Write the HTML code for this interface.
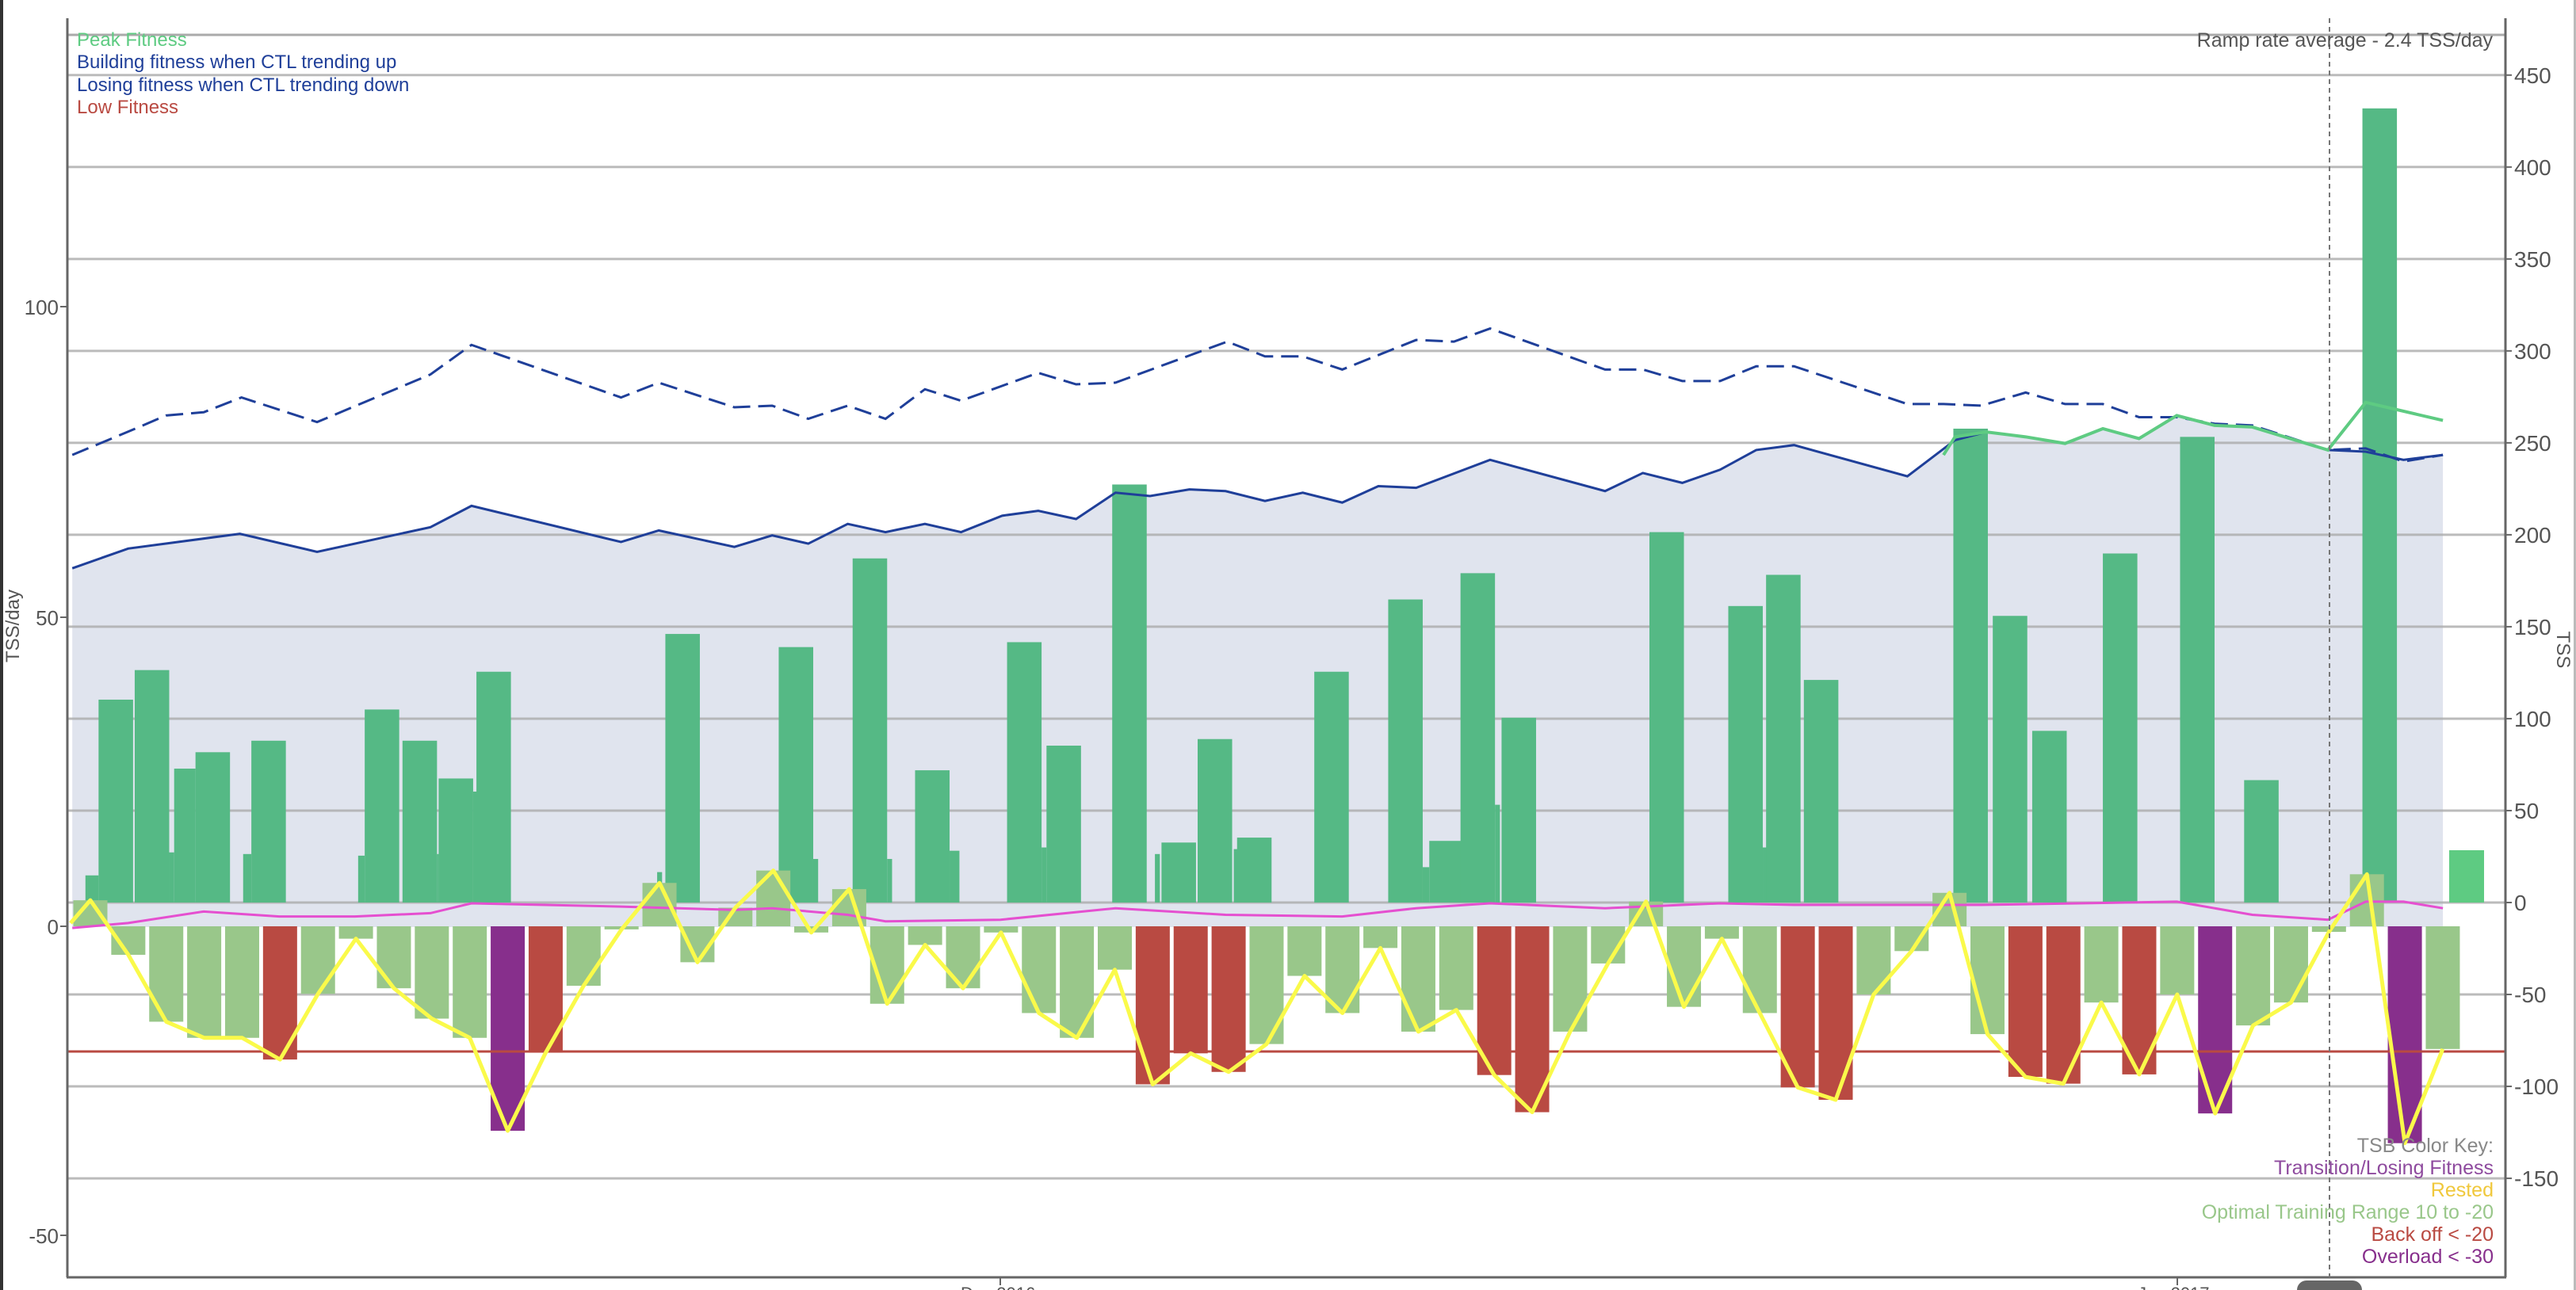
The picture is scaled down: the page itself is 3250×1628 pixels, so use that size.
<!DOCTYPE html>
<html><head><meta charset="utf-8"><style>
html,body{margin:0;padding:0;background:#fff;}
svg{display:block;font-family:"Liberation Sans",Arial,sans-serif;}
</style></head><body>
<svg id="c" width="3250" height="1628" viewBox="0 0 3250 1628" xmlns="http://www.w3.org/2000/svg">
<rect x="0" y="0" width="3250" height="1628" fill="#fff"/>
<rect x="0" y="0" width="4" height="1628" fill="#333"/>
<rect x="3247" y="0" width="3" height="1628" fill="#bbb"/>
<g id="area"></g>
<g id="grid"></g>
<g id="bars"></g>
<g id="lines"></g>
<!-- axes -->
<line x1="85" y1="23" x2="85" y2="1612" stroke="#666" stroke-width="3"/>
<line x1="3161" y1="23" x2="3161" y2="1612" stroke="#666" stroke-width="3"/>
<line x1="84" y1="1612" x2="3162" y2="1612" stroke="#666" stroke-width="3"/>
<line x1="1262" y1="1612" x2="1262" y2="1622" stroke="#666" stroke-width="2"/>
<line x1="2747" y1="1612" x2="2747" y2="1622" stroke="#666" stroke-width="2"/>
<line x1="2939" y1="23" x2="2939" y2="1612" stroke="#777" stroke-width="2" stroke-dasharray="6,5"/>
<rect x="2898" y="1616" width="82" height="30" rx="12" fill="#666"/>
<g font-size="26" fill="#555" text-anchor="end">
<text x="74" y="397">100</text><line x1="76" y1="387" x2="85" y2="387" stroke="#666" stroke-width="2"/>
<text x="74" y="789">50</text><line x1="76" y1="779" x2="85" y2="779" stroke="#666" stroke-width="2"/>
<text x="74" y="1179">0</text><line x1="76" y1="1169" x2="85" y2="1169" stroke="#666" stroke-width="2"/>
<text x="74" y="1569">-50</text><line x1="76" y1="1559" x2="85" y2="1559" stroke="#666" stroke-width="2"/>
</g>
<g id="rticks" font-size="28" fill="#555"></g>
<text transform="translate(24,790) rotate(-90)" font-size="24" fill="#555" text-anchor="middle">TSS/day</text>
<text transform="translate(3226,820) rotate(90)" font-size="24" fill="#555" text-anchor="middle">TSS</text>
<g font-size="24">
<text x="97" y="58" fill="#5ecb82">Peak Fitness</text>
<text x="97" y="86" fill="#1f3f99">Building fitness when CTL trending up</text>
<text x="97" y="115" fill="#1f3f99">Losing fitness when CTL trending down</text>
<text x="97" y="143" fill="#b94a42">Low Fitness</text>
</g>
<text x="3145" y="59" font-size="25" fill="#555" text-anchor="end">Ramp rate average - 2.4 TSS/day</text>
<g font-size="25" text-anchor="end">
<text x="3146" y="1454" fill="#888">TSB Color Key:</text>
<text x="3146" y="1482" fill="#8e4a9e">Transition/Losing Fitness</text>
<text x="3146" y="1510" fill="#f0c83c">Rested</text>
<text x="3146" y="1538" fill="#99c78a">Optimal Training Range 10 to -20</text>
<text x="3146" y="1566" fill="#b94a42">Back off &lt; -20</text>
<text x="3146" y="1594" fill="#872f8c">Overload &lt; -30</text>
</g>
<text x="1212" y="1640" font-size="22" fill="#555">Dec 2016</text>
<text x="2697" y="1640" font-size="22" fill="#555">Jan 2017</text>
</svg>
<script>
var NS="http://www.w3.org/2000/svg",k=2.0727;
function el(p,t,a){var e=document.createElementNS(NS,t);for(var q in a)e.setAttribute(q,a[q]);document.getElementById(p).appendChild(e);return e;}
// TSS gridlines
var T0=1139,tu=2.3205;
el('grid','line',{x1:85,y1:44,x2:3161,y2:44,stroke:'#aaa','stroke-width':3});
for(var v=450;v>=-150;v-=50){var y=T0-v*tu;
 el('grid','line',{x1:85,y1:y,x2:3161,y2:y,stroke:'#aaa','stroke-opacity':0.8,'stroke-width':3});
 el('rticks','line',{x1:3161,y1:y,x2:3169,y2:y,stroke:'#666','stroke-width':2});
 var t=el('rticks','text',{x:3172,y:y+10});t.textContent=v;}
// CTL
var ctl=[[44,346],[78,334],[146,325],[193,336],[262,321],[287,308],[378,330],[401,323],[447,333],[470,326],[492,331],[516,319],[539,324],[563,319],[585,324],[610,314],[632,311],[655,316],[679,300],[700,302],[724,298],[746,299],[770,305],[793,300],[817,306],[839,296],[862,297],[907,280],[977,299],[1000,288],[1024,294],[1047,286],[1069,274],[1092,271],[1161,290],[1190,268],[1209,263],[1233,266],[1257,270],[1280,261],[1302,267],[1325,253],[1348,259],[1371,260],[1417,274],[1440,275],[1463,280],[1487,277]];
var pts=ctl.map(function(p){return (p[0]*k)+','+(p[1]*k)}).join(' ');
el('area','polygon',{points:(44*k)+',1170 '+pts+' '+(1487*k)+',1170',fill:'#e0e4ee'});
// TSS bars (display coords x1,x2,top)
var tss=[[52,60,533],[60,81,426],[82,103,408],[103,106,519],[106,119,468],[119,140,458],[148,153,520],[153,174,451],[218,222,521],[222,243,432],[245,266,451],[266,267,520],[267,288,474],[288,291,482],[290,311,409],
[400,403,531],[405,426,386],[474,495,394],[495,498,523],[519,540,340],[540,543,523],[557,578,469],[578,584,518],[613,634,391],[634,637,516],[637,658,454],[677,698,295],[703,706,520],[707,728,513],[729,750,450],[751,754,517],[753,774,510],[800,821,409],[845,866,365],[866,870,528],[870,891,512],[889,910,349],[910,913,490],[914,935,437],[1004,1025,324],[1052,1073,369],[1073,1076,516],[1075,1096,350],[1098,1119,414],[1189,1210,261],[1213,1234,375],[1237,1258,445],[1280,1301,337],[1327,1348,266],[1366,1387,475],[1438,1459,66]];
tss.forEach(function(b){el('bars','rect',{x:b[0]*k,y:b[2]*k,width:(b[1]-b[0])*k,height:T0-b[2]*k,fill:'#55b985'});});
el('bars','rect',{x:3090,y:1073,width:44,height:66,fill:'#5ecb82'});
// TSB bars
var tsb=[4.2,-4.6,-15.4,-18,-18,-21.5,-10.9,-2,-10,-14.9,-18,-33,-20.4,-9.6,-0.5,7,-5.8,3,9,-1,6,-12.5,-3,-10,-1,-14,-18,-7,-25.5,-20.5,-23.5,-19,-8,-14,-3.5,-17,-13.5,-24,-30,-17,-6,4,-13,-2,-14,-26,-28,-11,-4,5.4,-17.4,-24.3,-25.4,-12.3,-23.9,-11,-30.2,-16,-12.3,-0.9,8.4,-35,-19.8];
var L0=1169,lu=7.82,yl=[[89,1165]];
tsb.forEach(function(v,i){var cx=114+47.87*i,c='#99c78a';if(v<-30)c='#872f8c';else if(v<-20)c='#b94a42';
 var y=L0-v*lu;el('bars','rect',{x:cx-21.5,y:Math.min(y,L0),width:43,height:Math.abs(v*lu),fill:c});yl.push([cx,y]);});
// red line
el('lines','line',{x1:85,y1:1327,x2:3161,y2:1327,stroke:'#b94a42','stroke-width':3});
// dashed
var dash=[[44,277],[80,262],[101,253],[124,251],[147,242],[193,257],[262,228],[287,210],[378,242],[401,233],[447,248],[470,247],[492,255],[516,247],[539,255],[563,237],[585,244],[632,227],[655,234],[679,233],[747,208],[770,217],[793,217],[817,225],[862,207],[885,208],[907,200],[977,225],[1000,225],[1024,232],[1047,232],[1069,223],[1092,223],[1161,246],[1183,246],[1206,247],[1233,239],[1257,246],[1280,246],[1302,254],[1325,254],[1348,258],[1371,259],[1417,274],[1440,273],[1463,281],[1487,277]];
function pl(a){return a.map(function(p){return (p[0]*k)+','+(p[1]*k)}).join(' ');}
el('lines','polyline',{points:pl(dash),fill:'none',stroke:'#1f3f99','stroke-width':3,'stroke-dasharray':'22,10'});
el('lines','polyline',{points:pts,fill:'none',stroke:'#1f3f99','stroke-width':3});
var gl=[[1183,277],[1190,266],[1209,263],[1233,266],[1257,270],[1280,261],[1302,267],[1325,253],[1348,259],[1371,260],[1417,274],[1440,245],[1487,256]];
el('lines','polyline',{points:pl(gl),fill:'none',stroke:'#5ecb82','stroke-width':4});
var mag=[[44,565],[78,562],[124,555],[170,558],[216,558],[262,556],[287,550],[378,552],[447,554],[470,553],[516,557],[539,561],[609,560],[679,553],[746,557],[817,558],[862,553],[907,550],[977,553],[1047,550],[1092,551],[1161,551],[1206,551],[1325,549],[1371,557],[1417,560],[1440,549],[1463,549],[1487,553]];
el('lines','polyline',{points:pl(mag),fill:'none',stroke:'#e54fd0','stroke-width':3});
el('lines','polyline',{points:yl.map(function(p){return p[0]+','+p[1]}).join(' '),fill:'none',stroke:'#fafa4a','stroke-width':5,'stroke-linejoin':'round'});
</script>
</body></html>
